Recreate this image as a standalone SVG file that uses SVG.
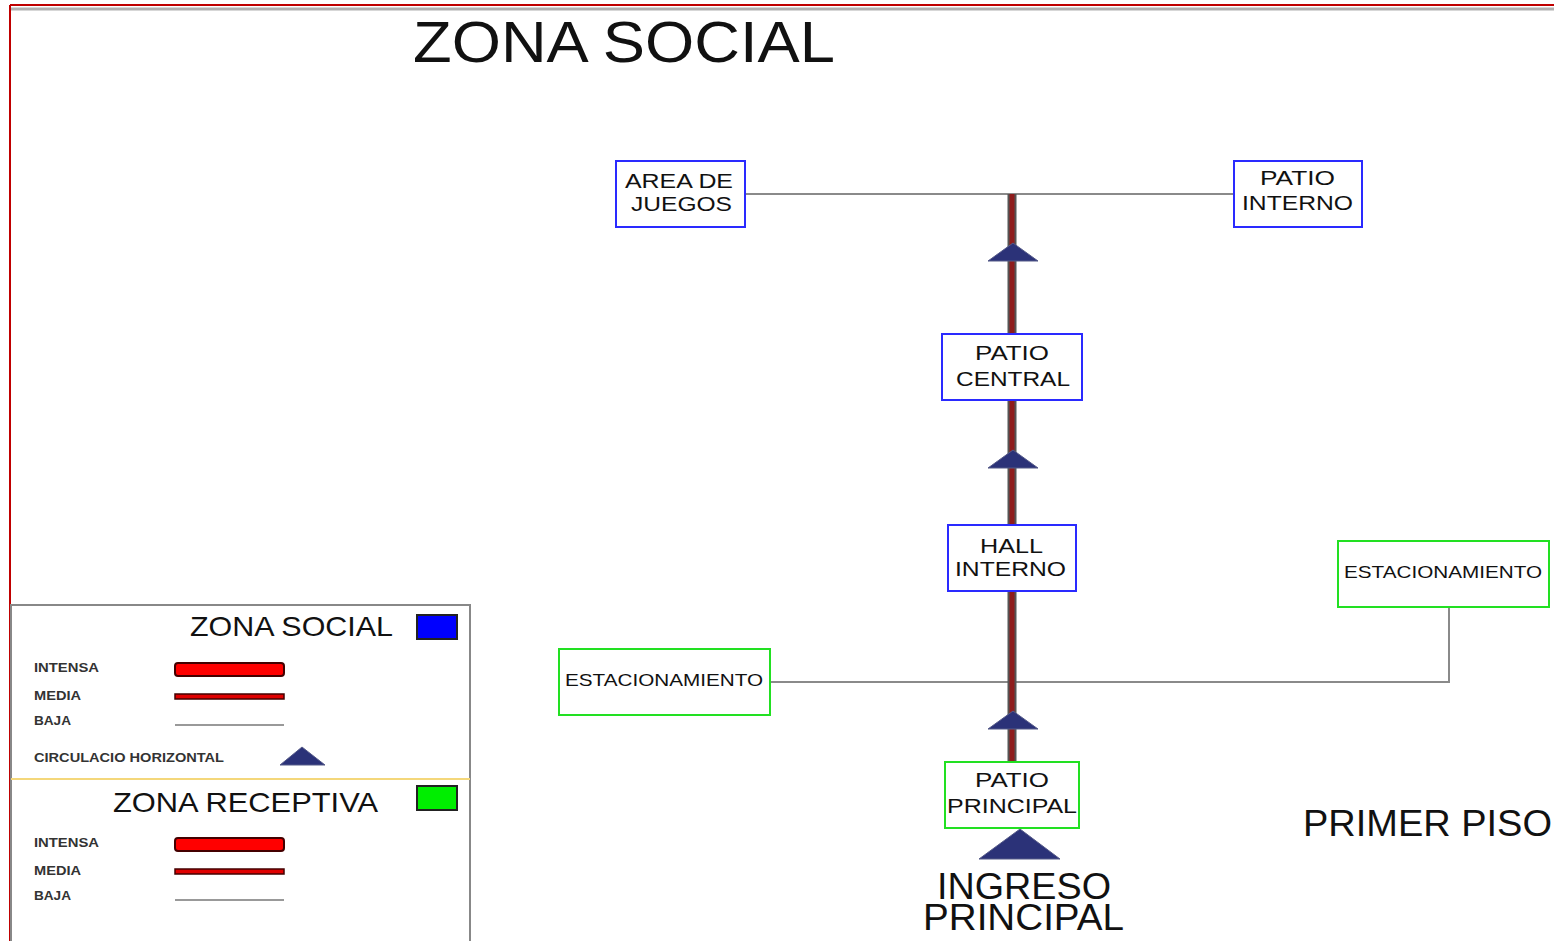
<svg xmlns="http://www.w3.org/2000/svg" width="1554" height="941" viewBox="0 0 1554 941">
<style>
text{font-family:"Liberation Sans",Arial,sans-serif;fill:#111}
.box{fill:#fff;stroke-width:2}
.soc{stroke:#2a2aff}
.rec{stroke:#22e022}
.nt{font-size:21px}
.est{font-size:17px}
.low{stroke:#8a8a8a;stroke-width:2;fill:none}
.tri{fill:#2b3278;stroke:#555a88;stroke-width:1}
.lg{font-size:12.5px;font-weight:bold;fill:#333}
</style>
<rect x="0" y="0" width="1554" height="941" fill="#fff"/>
<g id="frame">
<line x1="10" y1="9" x2="1554" y2="9" stroke="#b0b0b0" stroke-width="3"/>
<line x1="10" y1="5" x2="1554" y2="5" stroke="#c00000" stroke-width="2"/>
<line x1="10" y1="5" x2="10" y2="941" stroke="#c00000" stroke-width="2"/>
</g>
<text x="413" y="62" font-size="58" textLength="422" lengthAdjust="spacingAndGlyphs">ZONA SOCIAL</text>
<g id="connectors">
<line class="low" x1="745" y1="194" x2="1234" y2="194"/>
<polyline class="low" points="770,682 1449,682 1449,607"/>
<line x1="1012" y1="194" x2="1012" y2="762" stroke="#555" stroke-width="9"/>
<line x1="1012" y1="194" x2="1012" y2="762" stroke="#8e1c1c" stroke-width="5"/>
<polygon class="tri" points="1013,243 1038,261 988,261"/>
<polygon class="tri" points="1013,450 1038,468 988,468"/>
<polygon class="tri" points="1013,711 1038,729 988,729"/>
<polygon class="tri" points="1020,829 1060,859 979,859"/>
</g>
<g id="area-de-juegos">
<rect class="box soc" x="616" y="161" width="129" height="66"/>
<text class="nt" x="625" y="188" textLength="108" lengthAdjust="spacingAndGlyphs">AREA DE</text>
<text class="nt" x="631" y="211" textLength="101" lengthAdjust="spacingAndGlyphs">JUEGOS</text>
</g>
<g id="patio-interno">
<rect class="box soc" x="1234" y="161" width="128" height="66"/>
<text class="nt" x="1260" y="185" textLength="75" lengthAdjust="spacingAndGlyphs">PATIO</text>
<text class="nt" x="1242" y="210" textLength="111" lengthAdjust="spacingAndGlyphs">INTERNO</text>
</g>
<g id="patio-central">
<rect class="box soc" x="942" y="334" width="140" height="66"/>
<text class="nt" x="975" y="360" textLength="74" lengthAdjust="spacingAndGlyphs">PATIO</text>
<text class="nt" x="956" y="386" textLength="114" lengthAdjust="spacingAndGlyphs">CENTRAL</text>
</g>
<g id="hall-interno">
<rect class="box soc" x="948" y="525" width="128" height="66"/>
<text class="nt" x="980" y="553" textLength="63" lengthAdjust="spacingAndGlyphs">HALL</text>
<text class="nt" x="955" y="576" textLength="111" lengthAdjust="spacingAndGlyphs">INTERNO</text>
</g>
<g id="estacionamiento-der">
<rect class="box rec" x="1338" y="541" width="211" height="66"/>
<text class="est" x="1344" y="578" textLength="198" lengthAdjust="spacingAndGlyphs">ESTACIONAMIENTO</text>
</g>
<g id="estacionamiento-izq">
<rect class="box rec" x="559" y="649" width="211" height="66"/>
<text class="est" x="565" y="686" textLength="198" lengthAdjust="spacingAndGlyphs">ESTACIONAMIENTO</text>
</g>
<g id="patio-principal">
<rect class="box rec" x="945" y="762" width="134" height="66"/>
<text class="nt" x="975" y="787" textLength="74" lengthAdjust="spacingAndGlyphs">PATIO</text>
<text class="nt" x="947" y="813" textLength="130" lengthAdjust="spacingAndGlyphs">PRINCIPAL</text>
</g>
<g id="ingreso-principal">
<text x="937" y="899" font-size="36" textLength="174" lengthAdjust="spacingAndGlyphs">INGRESO</text>
<text x="923" y="930" font-size="36" textLength="201" lengthAdjust="spacingAndGlyphs">PRINCIPAL</text>
</g>
<text x="1303" y="836" font-size="36" textLength="249" lengthAdjust="spacingAndGlyphs">PRIMER PISO</text>
<g id="legend">
<rect x="11" y="605" width="459" height="345" fill="#fff" stroke="#888" stroke-width="2"/>
<line x1="11" y1="779" x2="470" y2="779" stroke="#f4d77a" stroke-width="2"/>
<text x="190" y="636" font-size="28" textLength="203" lengthAdjust="spacingAndGlyphs">ZONA SOCIAL</text>
<rect x="417" y="615" width="40" height="24" fill="#0000ff" stroke="#222" stroke-width="2"/>
<text class="lg" x="34" y="672" textLength="65" lengthAdjust="spacingAndGlyphs">INTENSA</text>
<rect x="175" y="663" width="109" height="13" rx="3" fill="#ff0000" stroke="#400" stroke-width="2"/>
<text class="lg" x="34" y="700" textLength="47" lengthAdjust="spacingAndGlyphs">MEDIA</text>
<rect x="175" y="694" width="109" height="5" fill="#e00000" stroke="#400" stroke-width="1.5"/>
<text class="lg" x="34" y="725" textLength="37" lengthAdjust="spacingAndGlyphs">BAJA</text>
<line x1="175" y1="725" x2="284" y2="725" stroke="#999" stroke-width="2"/>
<text class="lg" x="34" y="762" textLength="190" lengthAdjust="spacingAndGlyphs">CIRCULACIO HORIZONTAL</text>
<polygon class="tri" points="302,747 325,765 280,765"/>
<text x="113" y="812" font-size="28" textLength="265" lengthAdjust="spacingAndGlyphs">ZONA RECEPTIVA</text>
<rect x="417" y="786" width="40" height="24" fill="#00ee00" stroke="#222" stroke-width="2"/>
<text class="lg" x="34" y="847" textLength="65" lengthAdjust="spacingAndGlyphs">INTENSA</text>
<rect x="175" y="838" width="109" height="13" rx="3" fill="#ff0000" stroke="#400" stroke-width="2"/>
<text class="lg" x="34" y="875" textLength="47" lengthAdjust="spacingAndGlyphs">MEDIA</text>
<rect x="175" y="869" width="109" height="5" fill="#e00000" stroke="#400" stroke-width="1.5"/>
<text class="lg" x="34" y="900" textLength="37" lengthAdjust="spacingAndGlyphs">BAJA</text>
<line x1="175" y1="900" x2="284" y2="900" stroke="#999" stroke-width="2"/>
</g>
</svg>
